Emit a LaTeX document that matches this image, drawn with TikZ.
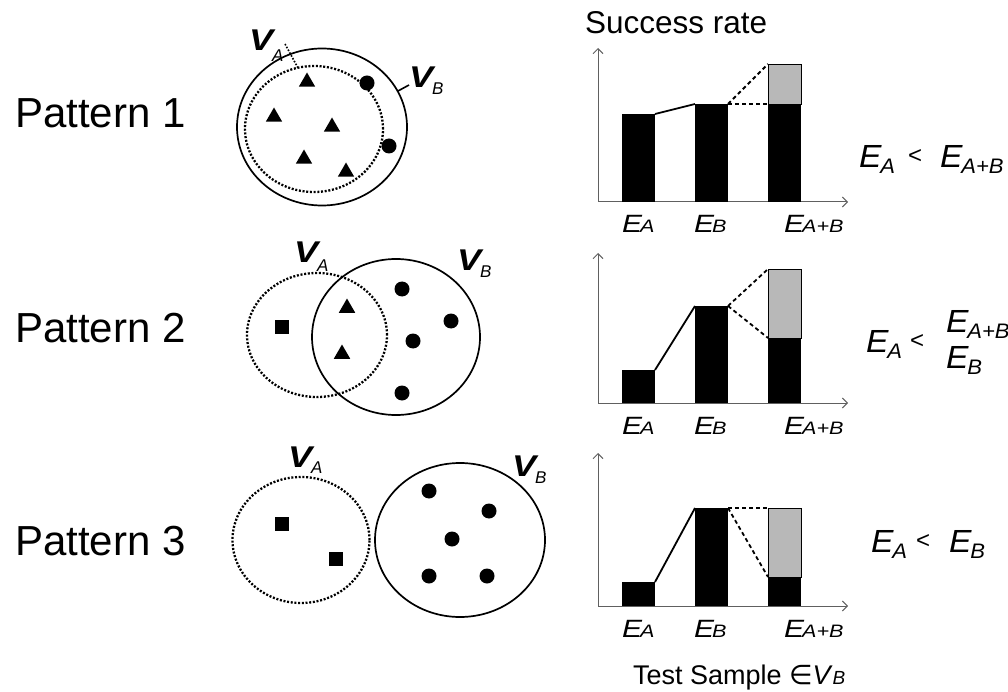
\documentclass[tikz,border=0pt]{standalone}
\usepackage{fontspec}
\setmainfont{Liberation Sans}
\newfontfamily\symfont{DejaVu Sans}
\usetikzlibrary{shapes.geometric,arrows.meta}
\newcommand\fs[1]{\fontsize{#1}{#1}\selectfont}
\newcommand\VL[2]{\scalebox{1.2}[1]{\fs{30}\bfseries\itshape V}\kern-1pt\raisebox{-#2pt}{\fs{17}\itshape #1}}
\newcommand\EC[1]{\scalebox{1.2}[1]{{\fs{25}\itshape E}\kern-1.5pt{\fs{18}\itshape #1}}}
\newcommand\ER[1]{\scalebox{1.05}[1]{{\fs{32}\itshape E}\kern-1pt\raisebox{-6pt}{\fs{21}\itshape #1}}}
\newcommand\chart[7]{%
  % #1 prefix, #2 origin y, #3 axis top y, #4 h1, #5 h2, #6 h3 black, #7 h3 gray
  \coordinate (#1o) at (598,#2);
  \coordinate (#1y) at (598,#3);
  \coordinate (#1x) at (848,#2);
  \draw[axis] (#1o) -- (#1y);
  \draw[axis] (#1o) -- (#1x);
  \node[blk, minimum height=#4pt] (#1b1) at (622,#2) {};
  \node[blk, minimum height=#5pt] (#1b2) at (695,#2) {};
  \node[blk, minimum height=#6pt] (#1b3) at (768,#2) {};
  \node[gry, minimum height=#7pt] (#1g) at (#1b3.north west) {};
  \draw[conn] (#1b1.north east) -- (#1b2.north west);
  \draw[dconn] (#1b2.north east) -- (#1g.north west);
  \draw[dconn] (#1b2.north east) -- (#1b3.north west);
  \node[lbl] (#1la) at (622,{#2+31}) {\EC{A}};
  \node[lbl] (#1lb) at (694,{#2+31}) {\EC{B}};
  \node[lbl] (#1lab) at (784,{#2+31}) {\EC{A+B}};
}
\begin{document}
\begin{tikzpicture}[x=1pt,y=-1pt,
  lbl/.style={inner sep=0, outer sep=0, anchor=base west},
  setA/.style={ellipse, draw, dash pattern=on 2pt off 1.7pt, line width=2.3pt, inner sep=0},
  setB/.style={ellipse, draw, line width=1.7pt, inner sep=0},
  dot/.style={circle, fill, inner sep=0, minimum size=15pt},
  tri/.style={regular polygon, regular polygon sides=3, fill, inner sep=0, minimum size=19pt},
  sq/.style={rectangle, fill, inner sep=0, minimum size=13.5pt},
  axis/.style={draw=gray!75!black, line width=1pt, -{Straight Barb[length=5pt,width=10pt]}},
  blk/.style={fill=black, inner sep=0, outer sep=0, minimum width=33pt, anchor=south west},
  gry/.style={fill=black!28, draw=black, line width=0.7pt, inner sep=0, outer sep=0, minimum width=33pt, anchor=south west},
  conn/.style={line width=1.8pt},
  dconn/.style={line width=1.8pt, dash pattern=on 4pt off 3pt},
  lead/.style={line width=1.6pt}
]
\useasboundingbox (0,0) rectangle (1008,692);

% pattern labels
\node[lbl] (pat1) at (15,128) {\fs{42}Pattern 1};
\node[lbl] (pat2) at (15,342) {\fs{42}Pattern 2};
\node[lbl] (pat3) at (15,555) {\fs{42}Pattern 3};

% ---------- Pattern 1 sets
\node[setB, minimum width=170pt, minimum height=157pt] (p1B) at (322,127) {};
\node[setA, minimum width=138pt, minimum height=126pt] (p1A) at (314,129) {};
\node[tri] (p1t1) at (307,82) {};
\node[tri] (p1t2) at (274,117) {};
\node[tri] (p1t3) at (332,127) {};
\node[tri] (p1t4) at (304,159) {};
\node[tri] (p1t5) at (346,172) {};
\node[dot] (p1d1) at (367,83) {};
\node[dot] (p1d2) at (389,146) {};
\node[lbl] (p1va) at (249,51) {\VL{A}{11}};
\node[lbl] (p1vb) at (409,88) {\VL{B}{7}};
\coordinate (p1vaS) at (285,44);
\coordinate (p1vaE) at (298,68);
\draw[lead, dash pattern=on 1.6pt off 1.6pt] (p1vaS) -- (p1vaE);
\coordinate (p1vbS) at (398,91);
\coordinate (p1vbE) at (409,85);
\draw[lead] (p1vbS) -- (p1vbE);

% ---------- Pattern 2 sets
\node[setA, minimum width=140pt, minimum height=124pt] (p2A) at (317,335) {};
\node[setB, minimum width=168pt, minimum height=156pt] (p2B) at (396,337) {};
\node[sq] (p2s1) at (282,327) {};
\node[tri] (p2t1) at (347,308) {};
\node[tri] (p2t2) at (342,354) {};
\node[dot] (p2d1) at (402,289) {};
\node[dot] (p2d2) at (451,321) {};
\node[dot] (p2d3) at (413,341) {};
\node[dot] (p2d4) at (402,393) {};
\node[lbl] (p2va) at (294,263) {\VL{A}{9}};
\node[lbl] (p2vb) at (457,271) {\VL{B}{7}};

% ---------- Pattern 3 sets
\node[setA, minimum width=137pt, minimum height=126pt] (p3A) at (301,540) {};
\node[setB, minimum width=170pt, minimum height=154pt] (p3B) at (460,540) {};
\node[sq] (p3s1) at (282,524) {};
\node[sq] (p3s2) at (336,559) {};
\node[dot] (p3d1) at (429,491) {};
\node[dot] (p3d2) at (489,511) {};
\node[dot] (p3d3) at (452,539) {};
\node[dot] (p3d4) at (429,576) {};
\node[dot] (p3d5) at (487,576) {};
\node[lbl] (p3va) at (288,467) {\VL{A}{6}};
\node[lbl] (p3vb) at (512,476) {\VL{B}{7}};

% ---------- charts
\node[lbl] (succ) at (585,34) {\fs{31.5}Success rate};
\chart{c1}{202}{48}{88}{98}{98}{40}
\chart{c2}{403}{253}{33}{97}{65}{69}
\chart{c3}{606}{453}{24}{98}{29}{69}

% ---------- comparisons
\node[lbl] (r1a) at (859,168) {\ER{A}};
\node[lbl] (r1lt) at (908,164) {\fs{24}<};
\node[lbl] (r1ab) at (940,168) {\ER{A+B}};

\node[lbl] (r2a) at (866,352) {\ER{A}};
\node[lbl] (r2lt) at (910,348) {\fs{24}<};
\node[lbl] (r2ab) at (946,332) {\ER{A+B}};
\node[lbl] (r2b) at (946,368) {\ER{B}};

\node[lbl] (r3a) at (871,552) {\ER{A}};
\node[lbl] (r3lt) at (916,548) {\fs{24}<};
\node[lbl] (r3b) at (949,552) {\ER{B}};

% ---------- bottom
\node[lbl] (test) at (633,684.5) {\fs{27}Test Sample {\symfont ∈}\textit{V}{\fs{19}\itshape B}};
\end{tikzpicture}
\end{document}
